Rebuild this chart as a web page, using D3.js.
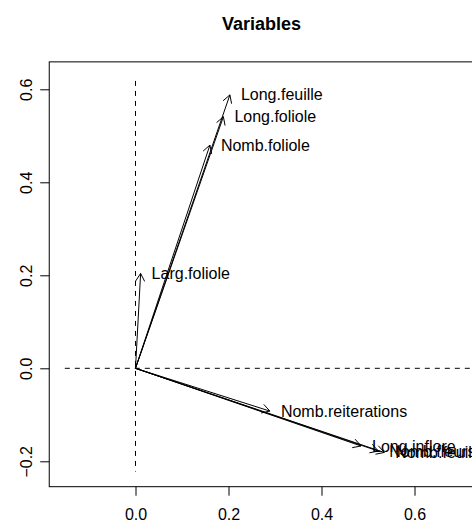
<!DOCTYPE html>
<html>
<head>
<meta charset="utf-8">
<script src="https://cdn.jsdelivr.net/npm/d3@7"></script>
<style>
  body { margin: 0; background: #fff; }
  text { font-family: "Liberation Sans", Arial, sans-serif; }
</style>
</head>
<body>
<div class="container"></div>
<script>
// variable names and their coordinates on the first two axes
let variables = ["Long.feuille", "Long.foliole", "Nomb.foliole", "Larg.foliole",
  "Nomb.reiterations", "Long.inflore", "Nomb.fleurs", "Nomb.feuilles"];
let dim1 = [0.203, 0.189, 0.160, 0.011, 0.289, 0.485, 0.522, 0.535];
let dim2 = [0.588, 0.541, 0.480, 0.204, -0.092, -0.167, -0.178, -0.181];
let xTicks = [0.0, 0.2, 0.4, 0.6];
let yTicks = [-0.2, 0.0, 0.2, 0.4, 0.6];

let width = 472, height = 523;

let x = d3.scaleLinear().domain([0, 0.6]).range([135.5, 414.5]);
let y = d3.scaleLinear().domain([0, 0.6]).range([368.3, 89.3]);

let svg = d3.select(".container")
  .append("svg")
  .attr("width", width)
  .attr("height", height);

// plot box (right edge runs just past the picture)
let box = { x0: x(-0.1855), x1: x(0.7275), y0: y(0.659), y1: y(-0.2546) };
svg.append("rect")
  .attr("x", box.x0)
  .attr("y", box.y0)
  .attr("width", box.x1 - box.x0)
  .attr("height", box.y1 - box.y0)
  .attr("fill", "none")
  .attr("stroke", "#000")
  .attr("stroke-width", 1);

svg.append("text")
  .attr("x", (box.x0 + box.x1) / 2)
  .attr("y", 30)
  .attr("text-anchor", "middle")
  .style("font-size", "18px")
  .style("font-weight", "bold")
  .text("Variables");

// axes
let fmt = d => d3.format(".1f")(d).replace("-", "\u2212");
let xAxis = svg.append("g")
  .attr("transform", `translate(0,${box.y1})`)
  .call(d3.axisBottom(x).tickValues(xTicks).tickFormat(fmt).tickSize(9).tickPadding(13));
let yAxis = svg.append("g")
  .attr("transform", `translate(${box.x0},0)`)
  .call(d3.axisLeft(y).tickValues(yTicks).tickFormat(fmt).tickSize(9));
[xAxis, yAxis].forEach(a => {
  a.select(".domain").remove();
  a.selectAll("line").attr("stroke", "#000");
  a.selectAll("text").style("font-size", "16px").attr("fill", "#000")
    .style("font-family", '"Liberation Sans", Arial, sans-serif');
});
// rotated y tick labels, like R's default las=0
yAxis.selectAll(".tick text")
  .attr("x", null).attr("dy", null).attr("y", 0)
  .attr("text-anchor", "middle")
  .attr("transform", "translate(-17,0) rotate(-90)");

// dashed reference lines
svg.append("line")
  .attr("x1", x(0)).attr("x2", x(0))
  .attr("y1", y(0.618)).attr("y2", y(-0.222))
  .attr("stroke", "#000").attr("stroke-dasharray", "5,5");
svg.append("line")
  .attr("x1", x(-0.152)).attr("x2", width)
  .attr("y1", y(0)).attr("y2", y(0))
  .attr("stroke", "#000").attr("stroke-dasharray", "5,5");

// arrows from the origin
let headLen = 9, headAng = Math.PI / 6;
variables.forEach((name, i) => {
  let x1 = x(dim1[i]), y1 = y(dim2[i]);
  let x0 = x(0), y0 = y(0);
  let ang = Math.atan2(y1 - y0, x1 - x0);
  let g = svg.append("g");
  g.append("line")
    .attr("x1", x0).attr("y1", y0)
    .attr("x2", x1).attr("y2", y1)
    .attr("stroke", "#000").attr("stroke-width", 1);
  g.append("path")
    .attr("d", `M${x1 - headLen * Math.cos(ang - headAng)},${y1 - headLen * Math.sin(ang - headAng)}` +
      `L${x1},${y1}L${x1 - headLen * Math.cos(ang + headAng)},${y1 - headLen * Math.sin(ang + headAng)}`)
    .attr("fill", "none").attr("stroke", "#000").attr("stroke-width", 1);
  g.append("text")
    .attr("x", x1 + 11)
    .attr("y", y1)
    .attr("dy", "0.35em")
    .style("font-size", "16px")
    .text(name);
});
</script>
</body>
</html>
